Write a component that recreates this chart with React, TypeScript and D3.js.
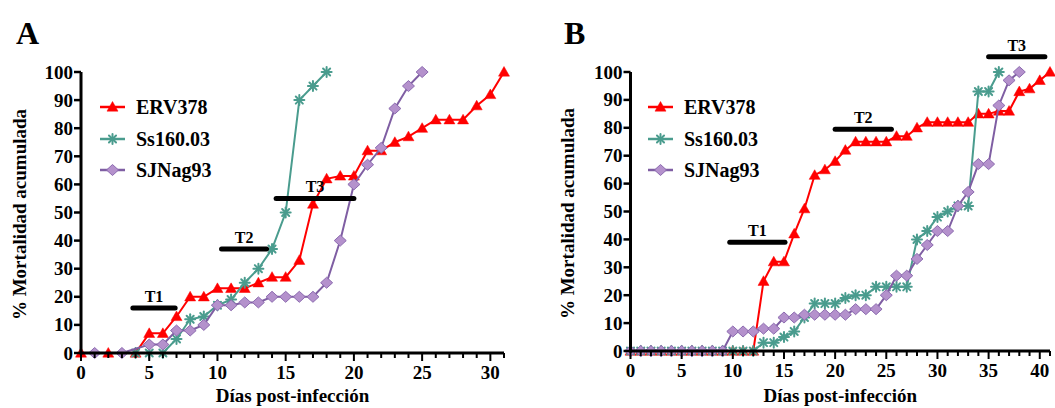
import React from "react";
import * as d3 from "d3";

// ---------- Data ----------
const seriesNames = ["ERV378", "Ss160.03", "SJNag93"];

// Panel A
const daysA_ERV = [0, 2, 4, 5, 6, 7, 8, 9, 10, 11, 12, 13, 14, 15, 16, 17, 18, 19, 20, 21, 22, 23, 24, 25, 26, 27, 28, 29, 30, 31];
const valsA_ERV = [0, 0, 0, 7, 7, 13, 20, 20, 23, 23, 23, 25, 27, 27, 33, 53, 62, 63, 63, 72, 72, 75, 77, 80, 83, 83, 83, 88, 92, 100];
const daysA_Ss = [4, 5, 6, 7, 8, 9, 10, 11, 12, 13, 14, 15, 16, 17, 18];
const valsA_Ss = [0, 0, 0, 5, 12, 13, 17, 19, 25, 30, 37, 50, 90, 95, 100];
const daysA_SJ = [1, 3, 5, 6, 7, 8, 9, 10, 11, 12, 13, 14, 15, 16, 17, 18, 19, 20, 21, 22, 23, 24, 25];
const valsA_SJ = [0, 0, 3, 3, 8, 8, 10, 17, 17, 18, 18, 20, 20, 20, 20, 25, 40, 60, 67, 73, 87, 95, 100];

// Panel B
const daysB_ERV = [0, 1, 2, 3, 4, 5, 6, 7, 8, 9, 10, 11, 12, 13, 14, 15, 16, 17, 18, 19, 20, 21, 22, 23, 24, 25, 26, 27, 28, 29, 30, 31, 32, 33, 34, 35, 36, 37, 38, 39, 40, 41];
const valsB_ERV = [0, 0, 0, 0, 0, 0, 0, 0, 0, 0, 0, 0, 0, 25, 32, 32, 42, 51, 63, 65, 68, 72, 75, 75, 75, 75, 77, 77, 80, 82, 82, 82, 82, 82, 85, 85, 86, 86, 93, 94, 97, 100];
const daysB_Ss = [0, 1, 2, 3, 4, 5, 6, 7, 8, 9, 10, 11, 12, 13, 14, 15, 16, 17, 18, 19, 20, 21, 22, 23, 24, 25, 26, 27, 28, 29, 30, 31, 32, 33, 34, 35, 36];
const valsB_Ss = [0, 0, 0, 0, 0, 0, 0, 0, 0, 0, 0, 0, 0, 3, 3, 5, 7, 12, 17, 17, 17, 19, 20, 20, 23, 23, 23, 23, 40, 43, 48, 50, 52, 52, 93, 93, 100];
const daysB_SJ = [0, 1, 2, 3, 4, 5, 6, 7, 8, 9, 10, 11, 12, 13, 14, 15, 16, 17, 18, 19, 20, 21, 22, 23, 24, 25, 26, 27, 28, 29, 30, 31, 32, 33, 34, 35, 36, 37, 38];
const valsB_SJ = [0, 0, 0, 0, 0, 0, 0, 0, 0, 0, 7, 7, 7, 8, 8, 12, 12, 13, 13, 13, 13, 13, 15, 15, 15, 20, 27, 27, 33, 38, 43, 43, 52, 57, 67, 67, 88, 97, 100];

// Treatment bars: label, start day, end day, level
const barLabels = ["T1", "T2", "T3"];
const barsA_start = [3.8, 10.3, 14.3];
const barsA_end = [6.9, 13.6, 20.0];
const barsA_level = [16, 37, 55];
const barsB_start = [9.7, 20.0, 35.0];
const barsB_end = [15.1, 25.5, 40.5];
const barsB_level = [39, 79.5, 105.5];

const yTicks = [0, 10, 20, 30, 40, 50, 60, 70, 80, 90, 100];
const xTicksA = [0, 5, 10, 15, 20, 25, 30];
const xTicksB = [0, 5, 10, 15, 20, 25, 30, 35, 40];

// ---------- Styles ----------
const RED = "#ff0000";
const TEAL = "#4a9c8e";
const PURPLE_LINE = "#7f5ea3";
const PURPLE_FILL = "#b491cc";
const PURPLE_STROKE = "#8c6bb0";
const FONT = "'Liberation Serif', 'Times New Roman', serif";

type Pt = [number, number];

function Marker({ kind, x, y }: { kind: number; x: number; y: number }) {
  if (kind === 0) {
    const s = 5.5;
    return (
      <path
        d={`M${x},${y - s}L${x + s},${y + s * 0.75}L${x - s},${y + s * 0.75}Z`}
        fill={RED}
        stroke={RED}
        strokeWidth={0.5}
      />
    );
  }
  if (kind === 1) {
    const r = 5;
    const d = r * Math.SQRT1_2;
    return (
      <g stroke={TEAL} strokeWidth={2} strokeLinecap="round">
        <line x1={x - r} y1={y} x2={x + r} y2={y} />
        <line x1={x} y1={y - r} x2={x} y2={y + r} />
        <line x1={x - d} y1={y - d} x2={x + d} y2={y + d} />
        <line x1={x - d} y1={y + d} x2={x + d} y2={y - d} />
      </g>
    );
  }
  const w = 6, h = 5.5;
  return (
    <path
      d={`M${x},${y - h}L${x + w},${y}L${x},${y + h}L${x - w},${y}Z`}
      fill={PURPLE_FILL}
      stroke={PURPLE_STROKE}
      strokeWidth={1}
    />
  );
}

function Panel({
  letter, letterX, x, y, xTicks, xMax, series, barsStart, barsEnd, barsLevel, legendX, titleX,
}: {
  letter: string; letterX: number;
  x: d3.ScaleLinear<number, number>; y: d3.ScaleLinear<number, number>;
  xTicks: number[]; xMax: number;
  series: { days: number[]; vals: number[] }[];
  barsStart: number[]; barsEnd: number[]; barsLevel: number[];
  legendX: number; titleX: number;
}) {
  const colors = [RED, TEAL, PURPLE_LINE];
  const line = d3.line<Pt>().x((d) => x(d[0])).y((d) => y(d[1]));
  const x0 = x(0);
  const y0 = y(0);
  const minor = d3.range(0, xMax + 1);
  const legendRows = [107, 139, 170];
  return (
    <g>
      <text x={letterX} y={44} fontFamily={FONT} fontWeight="bold" fontSize={32}>{letter}</text>
      {/* y-axis title */}
      <text
        transform={`translate(${titleX},${(y(0) + y(100)) / 2 + 2}) rotate(-90)`}
        textAnchor="middle"
        fontFamily={FONT}
        fontWeight="bold"
        fontSize={19}
      >
        % Mortalidad acumulada
      </text>
      {/* x-axis title */}
      <text
        x={(x(0) + x(xMax)) / 2}
        y={402}
        textAnchor="middle"
        fontFamily={FONT}
        fontWeight="bold"
        fontSize={19}
      >
        Días post-infección
      </text>
      {/* series */}
      {series.map((s, i) => {
        const pts: Pt[] = s.days.map((d, k) => [d, s.vals[k]]);
        return (
          <g key={i}>
            <path d={line(pts) || ""} fill="none" stroke={colors[i]} strokeWidth={2} />
            {pts.map((p, k) => (
              <Marker key={k} kind={i} x={x(p[0])} y={y(p[1])} />
            ))}
          </g>
        );
      })}
      {/* axes */}
      <line x1={x0} y1={y0} x2={x(xMax)} y2={y0} stroke="#000" strokeWidth={3} />
      <line x1={x0} y1={y0 + 1.5} x2={x0} y2={y(100)} stroke="#000" strokeWidth={3} />
      {yTicks.map((t) => (
        <g key={t}>
          <line x1={x0 - 7} x2={x0} y1={y(t)} y2={y(t)} stroke="#000" strokeWidth={2.5} />
          <text x={x0 - 8} y={y(t) + 6.5} textAnchor="end" fontFamily={FONT} fontWeight="bold" fontSize={19}>
            {t}
          </text>
        </g>
      ))}
      {minor.map((t) => (
        <line
          key={t}
          x1={x(t)}
          x2={x(t)}
          y1={y0}
          y2={y0 + (t % 5 === 0 ? 8 : 5)}
          stroke="#000"
          strokeWidth={2}
        />
      ))}
      {xTicks.map((t) => (
        <text key={t} x={x(t)} y={y0 + 26} textAnchor="middle" fontFamily={FONT} fontWeight="bold" fontSize={19}>
          {t}
        </text>
      ))}
      {/* treatment bars */}
      {barLabels.map((lab, i) => (
        <g key={lab}>
          <line
            x1={x(barsStart[i])}
            x2={x(barsEnd[i])}
            y1={y(barsLevel[i])}
            y2={y(barsLevel[i])}
            stroke="#000"
            strokeWidth={5}
            strokeLinecap="round"
          />
          <text
            x={(x(barsStart[i]) + x(barsEnd[i])) / 2}
            y={y(barsLevel[i]) - 6}
            textAnchor="middle"
            fontFamily={FONT}
            fontWeight="bold"
            fontSize={16}
          >
            {lab}
          </text>
        </g>
      ))}
      {/* legend */}
      {seriesNames.map((n, i) => (
        <g key={n}>
          <line x1={legendX} x2={legendX + 25} y1={legendRows[i]} y2={legendRows[i]} stroke={colors[i]} strokeWidth={2.5} />
          <Marker kind={i} x={legendX + 12.5} y={legendRows[i]} />
          <text x={legendX + 36} y={legendRows[i] + 7} fontFamily={FONT} fontWeight="bold" fontSize={20}>
            {n}
          </text>
        </g>
      ))}
    </g>
  );
}

export default function App() {
  const xA = d3.scaleLinear().domain([0, 31]).range([81, 504]);
  const yA = d3.scaleLinear().domain([0, 100]).range([353, 72]);
  const xB = d3.scaleLinear().domain([0, 41]).range([630.5, 1050]);
  const yB = d3.scaleLinear().domain([0, 100]).range([351, 72]);

  const seriesA = [
    { days: daysA_ERV, vals: valsA_ERV },
    { days: daysA_Ss, vals: valsA_Ss },
    { days: daysA_SJ, vals: valsA_SJ },
  ];
  const seriesB = [
    { days: daysB_ERV, vals: valsB_ERV },
    { days: daysB_Ss, vals: valsB_Ss },
    { days: daysB_SJ, vals: valsB_SJ },
  ];

  return (
    <svg
      width={1055}
      height={408}
      style={{ position: "absolute", left: 0, top: 0, background: "#fff" }}
    >
      <rect width={1055} height={408} fill="#fff" />
      <Panel
        letter="A" letterX={16} x={xA} y={yA} xTicks={xTicksA} xMax={31} series={seriesA}
        barsStart={barsA_start} barsEnd={barsA_end} barsLevel={barsA_level}
        legendX={100} titleX={26}
      />
      <Panel
        letter="B" letterX={564} x={xB} y={yB} xTicks={xTicksB} xMax={41} series={seriesB}
        barsStart={barsB_start} barsEnd={barsB_end} barsLevel={barsB_level}
        legendX={648} titleX={574}
      />
    </svg>
  );
}
